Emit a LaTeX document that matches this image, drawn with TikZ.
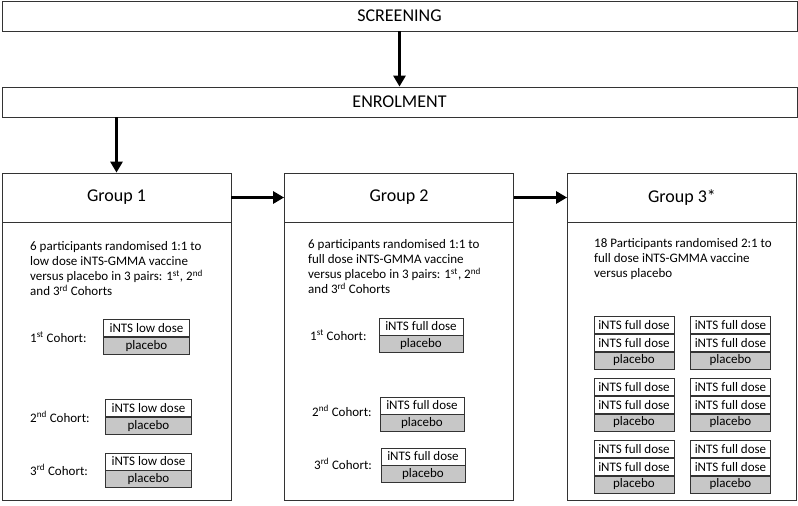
\documentclass[tikz,border=0pt]{standalone}
\usepackage{fontspec}
\setmainfont{Carlito}
\usetikzlibrary{arrows.meta}
\usetikzlibrary{calc}

\tikzset{
  box/.style={draw=black!80, line width=0.8pt, inner sep=0pt},
  hdr/.style={box, minimum width=795pt, minimum height=30pt, font=\fontsize{18}{21}\selectfont},
  ttl/.style={box, minimum width=229pt, minimum height=49pt, font=\fontsize{18}{21}\selectfont},
  bdy/.style={box, minimum width=229pt, minimum height=278pt},
  txt/.style={anchor=north west, align=left, inner sep=0pt, font=\fontsize{13}{15.2}\selectfont},
  lbl/.style={anchor=west, inner sep=0pt, font=\fontsize{13}{15}\selectfont},
  cell/.style={box, minimum height=17pt, font=\fontsize{13}{15}\selectfont},
  pcb/.style={cell, fill=black!22},
  flow/.style={line width=3.5pt, -{Triangle[length=11pt,width=12pt]}}
}

\begin{document}
\begin{tikzpicture}[x=1pt,y=-1pt]
	\useasboundingbox (0,0) rectangle (798,506);

	\node[hdr] (screen) at (399.5,16) {SCREENING};
	\node[hdr] (enrol) at (399.5,102) {ENROLMENT};

	\node[ttl] (g1t) at (116.5,197.5) {Group 1};
	\node[ttl] (g2t) at (399,197.5) {Group 2};
	\node[ttl] (g3t) at (682,197.5) {Group 3*};
	\node[bdy, anchor=north] (g1b) at (g1t.south) {};
	\node[bdy, anchor=north] (g2b) at (g2t.south) {};
	\node[bdy, anchor=north] (g3b) at (g3t.south) {};

	\draw[flow] (screen.south) -- (enrol.north);
	\draw[flow] (g1t.north |- enrol.south) -- (g1t.north);
	\draw[flow] (g1t.east) -- (g2t.west);
	\draw[flow] (g2t.east) -- (g3t.west);

	\node[txt] (g1x) at (30,241) {6 participants randomised 1:1 to\\low dose iNTS-GMMA vaccine\\versus placebo in 3 pairs: 1\textsuperscript{st}, 2\textsuperscript{nd}\\and 3\textsuperscript{rd} Cohorts};
	\node[txt] (g2x) at (308,239) {6 participants randomised 1:1 to\\full dose iNTS-GMMA vaccine\\versus placebo in 3 pairs: 1\textsuperscript{st}, 2\textsuperscript{nd}\\and 3\textsuperscript{rd} Cohorts};
	\node[txt] (g3x) at (594,238) {18 Participants randomised 2:1 to\\full dose iNTS-GMMA vaccine\\versus placebo};

	% group 1
	\node[cell, minimum width=86pt] (g1a1) at (146.5,328) {iNTS low dose};
	\node[pcb, minimum width=86pt, anchor=north] (g1a2) at (g1a1.south) {placebo};
	\node[lbl] (g1l1) at (30,337) {1\textsuperscript{st} Cohort:};
	\node[cell, minimum width=86pt] (g1b1) at (148.5,408) {iNTS low dose};
	\node[pcb, minimum width=86pt, anchor=north] (g1b2) at (g1b1.south) {placebo};
	\node[lbl] (g1l2) at (30,417) {2\textsuperscript{nd} Cohort:};
	\node[cell, minimum width=86pt] (g1c1) at (148.5,461.5) {iNTS low dose};
	\node[pcb, minimum width=86pt, anchor=north] (g1c2) at (g1c1.south) {placebo};
	\node[lbl] (g1l3) at (30,470) {3\textsuperscript{rd} Cohort:};

	% group 2
	\node[cell, minimum width=84pt] (g2a1) at (421,326.5) {iNTS full dose};
	\node[pcb, minimum width=84pt, anchor=north] (g2a2) at (g2a1.south) {placebo};
	\node[lbl] (g2l1) at (310,335) {1\textsuperscript{st} Cohort:};
	\node[cell, minimum width=84pt] (g2b1) at (422,405.5) {iNTS full dose};
	\node[pcb, minimum width=84pt, anchor=north] (g2b2) at (g2b1.south) {placebo};
	\node[lbl] (g2l2) at (312,411) {2\textsuperscript{nd} Cohort:};
	\node[cell, minimum width=84pt] (g2c1) at (423,456.5) {iNTS full dose};
	\node[pcb, minimum width=84pt, anchor=north] (g2c2) at (g2c1.south) {placebo};
	\node[lbl] (g2l3) at (314,464) {3\textsuperscript{rd} Cohort:};

	% group 3
	\foreach \cx/\cn in {634/l,730.5/r}
	\foreach \cy/\rn in {316/1,378/2,440/3}{
		\node[cell, minimum width=80pt, anchor=north] (g3\cn\rn a) at (\cx,\cy) {iNTS full dose};
		\node[cell, minimum width=80pt, anchor=north] (g3\cn\rn b) at (g3\cn\rn a.south) {iNTS full dose};
		\node[pcb, minimum width=80pt, anchor=north] (g3\cn\rn c) at (g3\cn\rn b.south) {placebo};
	}
\end{tikzpicture}
\end{document}
